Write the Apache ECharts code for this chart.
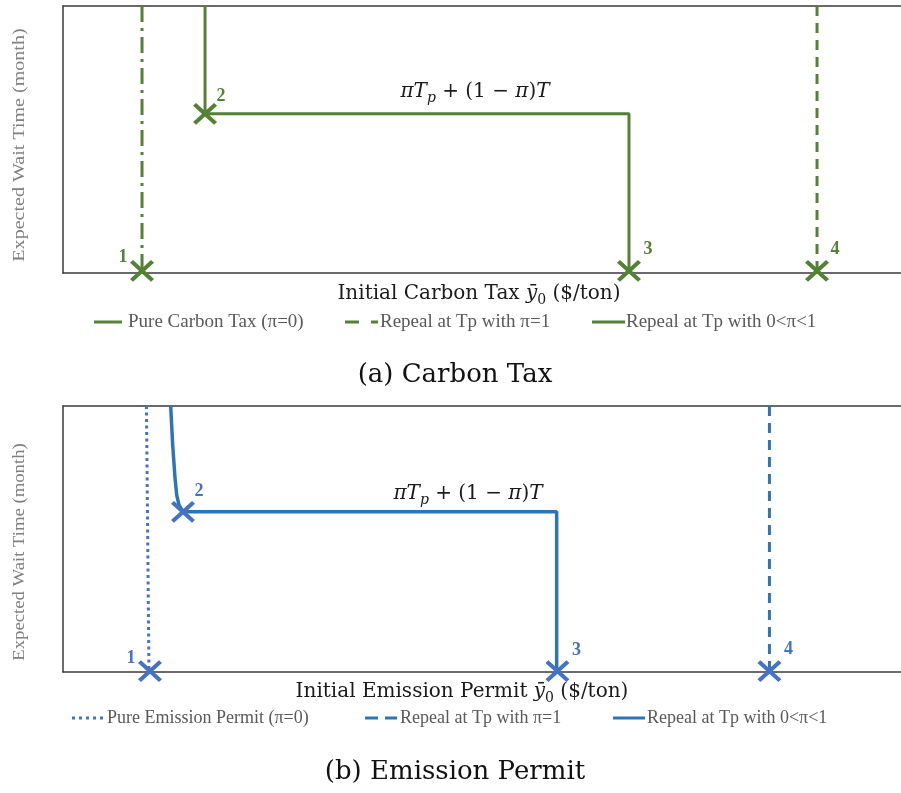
<!DOCTYPE html>
<html><head><meta charset="utf-8">
<script src="https://cdn.jsdelivr.net/npm/echarts@6/dist/echarts.min.js"></script>
<style>html,body{margin:0;padding:0;background:#fff}#c{width:901px;height:793px}</style>
</head><body><div id="c"></div>
<script>
// ---------- data (arbitrary units: x 0..100, y 0..100) ----------
const pointLabels = ['1', '2', '3', '4'];

// (a) Carbon Tax
const taxPureLine    = [[9.43, 100], [9.43, 0.8]];
const taxRepealLine  = [[89.98, 100], [89.98, 0.8]];
const taxPartialLine = [[16.95, 100], [16.95, 59.6], [67.54, 59.6], [67.54, 0.8]];
const taxPoints      = [[9.43, 0.8], [16.95, 59.6], [67.54, 0.8], [89.98, 0.8]];

// (b) Emission Permit
const permitPureLine    = [[9.96, 100], [10.26, 0.3]];
const permitRepealLine  = [[84.3, 100], [84.3, 0.3]];
const permitPartialLine = [[12.85, 100], [13.09, 85.3], [13.37, 72.9], [13.57, 66.5], [13.84, 62.8], [14.32, 60.2], [58.91, 60.2], [58.91, 0.3]];
const permitPoints      = [[10.38, 0.3], [14.32, 60.2], [59.0, 0.3], [84.3, 0.3]];

const legendTax = ['Pure Carbon Tax (\u03c0=0)', 'Repeal at Tp with \u03c0=1', 'Repeal at Tp with 0<\u03c0<1'];
const legendPermit = ['Pure Emission Permit (\u03c0=0)', 'Repeal at Tp with \u03c0=1', 'Repeal at Tp with 0<\u03c0<1'];

// ---------- styles ----------
const GREEN = '#548235';
const BLUE_LINE = '#2e75b6';
const BLUE_MARK = '#4472c4';
const FRAME = '#3a3a3a';
const XPATH = 'path://M0,0L10,10M0,10L10,0';
const taxLabelOffsets = [[-19, -14], [16, -18], [19, -22], [18, -22]];
const permitLabelOffsets = [[-19, -13], [16, -21], [19, -21], [19, -22]];

function lineSeries(xi, yi, data, color, width, type) {
  return { type: 'line', xAxisIndex: xi, yAxisIndex: yi, data: data, symbol: 'none', silent: true,
    lineStyle: { color: color, width: width, type: type, cap: 'butt' } };
}
function pointSeries(xi, yi, pts, offsets, color) {
  return { type: 'scatter', xAxisIndex: xi, yAxisIndex: yi, clip: false, z: 5, silent: true,
    data: pts.map((p, i) => ({ value: p, label: { offset: offsets[i] } })),
    symbol: XPATH, symbolSize: [21, 19],
    itemStyle: { color: 'rgba(0,0,0,0)', borderColor: color, borderWidth: 4, opacity: 1 },
    label: { show: true, position: 'inside', formatter: p => pointLabels[p.dataIndex],
      color: color, opacity: 1, fontFamily: 'Liberation Serif', fontWeight: 'bold', fontSize: 18 } };
}
const frameLine = { show: true, onZero: false, lineStyle: { color: FRAME, width: 1.5 } };
const axisX = (g, pos) => ({ type: 'value', gridIndex: g, position: pos, min: 0, max: 100,
  axisLine: frameLine, axisTick: { show: false }, axisLabel: { show: false }, splitLine: { show: false } });
const axisY = g => ({ type: 'value', gridIndex: g, position: 'left', min: 0, max: 100,
  axisLine: frameLine, axisTick: { show: false }, axisLabel: { show: false }, splitLine: { show: false } });

function legendGroup(y, items, font) {
  const els = [];
  items.forEach(it => {
    els.push({ type: 'line', shape: { x1: it.x1, y1: y, x2: it.x2, y2: y },
      style: { stroke: it.color, lineWidth: it.w || 3, lineDash: it.dash || null } });
    els.push({ type: 'text', x: it.tx, y: y, style: { text: it.text, font: font, fill: '#595959', verticalAlign: 'middle' } });
  });
  return els;
}

const titleRich = {
  r: { fontFamily: 'DejaVu Serif', fontSize: 20, fill: '#1a1a1a', lineHeight: 26, verticalAlign: 'middle' },
  i: { fontFamily: 'DejaVu Serif', fontStyle: 'italic', fontSize: 20, fill: '#1a1a1a', lineHeight: 26, verticalAlign: 'middle' },
  s: { fontFamily: 'DejaVu Serif', fontSize: 14, fill: '#1a1a1a', lineHeight: 14, verticalAlign: 'bottom' }
};
const mathRich = {
  r: { fontFamily: 'DejaVu Serif', fontSize: 20, fill: '#1a1a1a', lineHeight: 26, verticalAlign: 'middle' },
  i: { fontFamily: 'DejaVu Serif', fontStyle: 'italic', fontSize: 20, fill: '#1a1a1a', lineHeight: 26, verticalAlign: 'middle' },
  s: { fontFamily: 'DejaVu Serif', fontStyle: 'italic', fontSize: 14, fill: '#1a1a1a', lineHeight: 14, verticalAlign: 'bottom' }
};
const mathText = '{i|\u03c0T}{s|p}{r| + (1 \u2212 }{i|\u03c0}{r|)}{i|T}';

const graphics = [].concat(
  [
    { type: 'text', x: 20, y: 145, rotation: Math.PI / 2, scaleX: 1.18,
      style: { text: 'Expected Wait Time (month)', font: '17px "Liberation Serif"', fill: '#808080', align: 'center', verticalAlign: 'middle' } },
    { type: 'text', x: 20, y: 552, rotation: Math.PI / 2, scaleX: 1.1,
      style: { text: 'Expected Wait Time (month)', font: '17px "Liberation Serif"', fill: '#808080', align: 'center', verticalAlign: 'middle' } },
    { type: 'text', x: 479, y: 294, style: { text: '{r|Initial Carbon Tax }{i|\u0233}{s|0}{r| ($/ton)}', rich: titleRich, align: 'center', verticalAlign: 'middle' } },
    { type: 'text', x: 462, y: 692, style: { text: '{r|Initial Emission Permit }{i|\u0233}{s|0}{r| ($/ton)}', rich: titleRich, align: 'center', verticalAlign: 'middle' } },
    { type: 'text', x: 475, y: 92, style: { text: mathText, rich: mathRich, align: 'center', verticalAlign: 'middle' } },
    { type: 'text', x: 468, y: 494, style: { text: mathText, rich: mathRich, align: 'center', verticalAlign: 'middle' } },
    { type: 'text', x: 455, y: 375, style: { text: '(a) Carbon Tax', font: '26px "DejaVu Serif"', fill: '#111', align: 'center', verticalAlign: 'middle' } },
    { type: 'text', x: 455, y: 772, style: { text: '(b) Emission Permit', font: '26px "DejaVu Serif"', fill: '#111', align: 'center', verticalAlign: 'middle' } }
  ],
  legendGroup(322, [
    { x1: 94, x2: 122, color: GREEN, tx: 128, text: legendTax[0] },
    { x1: 345, x2: 378, color: GREEN, dash: [14, 12], tx: 380, text: legendTax[1] },
    { x1: 592, x2: 625, color: GREEN, tx: 626, text: legendTax[2] }
  ], '19px "Liberation Serif"'),
  legendGroup(718, [
    { x1: 72, x2: 105, color: BLUE_MARK, dash: [3, 4], tx: 107, text: legendPermit[0] },
    { x1: 365, x2: 397, color: BLUE_LINE, dash: [13, 7], tx: 400, text: legendPermit[1] },
    { x1: 613, x2: 645, color: BLUE_LINE, tx: 647, text: legendPermit[2] }
  ], '18px "Liberation Serif"')
);

const chart = echarts.init(document.getElementById('c'), null, { renderer: 'canvas' });
chart.setOption({
  animation: false,
  backgroundColor: '#fff',
  grid: [
    { left: 63, top: 6, right: 0, height: 267, show: false },
    { left: 63, top: 406, right: 0, height: 266, show: false }
  ],
  xAxis: [axisX(0, 'bottom'), axisX(0, 'top'), axisX(1, 'bottom'), axisX(1, 'top')],
  yAxis: [axisY(0), axisY(1)],
  series: [
    lineSeries(0, 0, taxPureLine, GREEN, 3, [16, 6, 3, 6]),
    lineSeries(0, 0, taxRepealLine, GREEN, 3, [10, 7]),
    lineSeries(0, 0, taxPartialLine, GREEN, 3, 'solid'),
    pointSeries(0, 0, taxPoints, taxLabelOffsets, GREEN),
    lineSeries(2, 1, permitPureLine, BLUE_MARK, 3, [3, 3.5]),
    lineSeries(2, 1, permitRepealLine, BLUE_LINE, 3, [10, 7]),
    lineSeries(2, 1, permitPartialLine, BLUE_LINE, 3.5, 'solid'),
    pointSeries(2, 1, permitPoints, permitLabelOffsets, BLUE_MARK)
  ],
  graphic: graphics
});
</script></body></html>
